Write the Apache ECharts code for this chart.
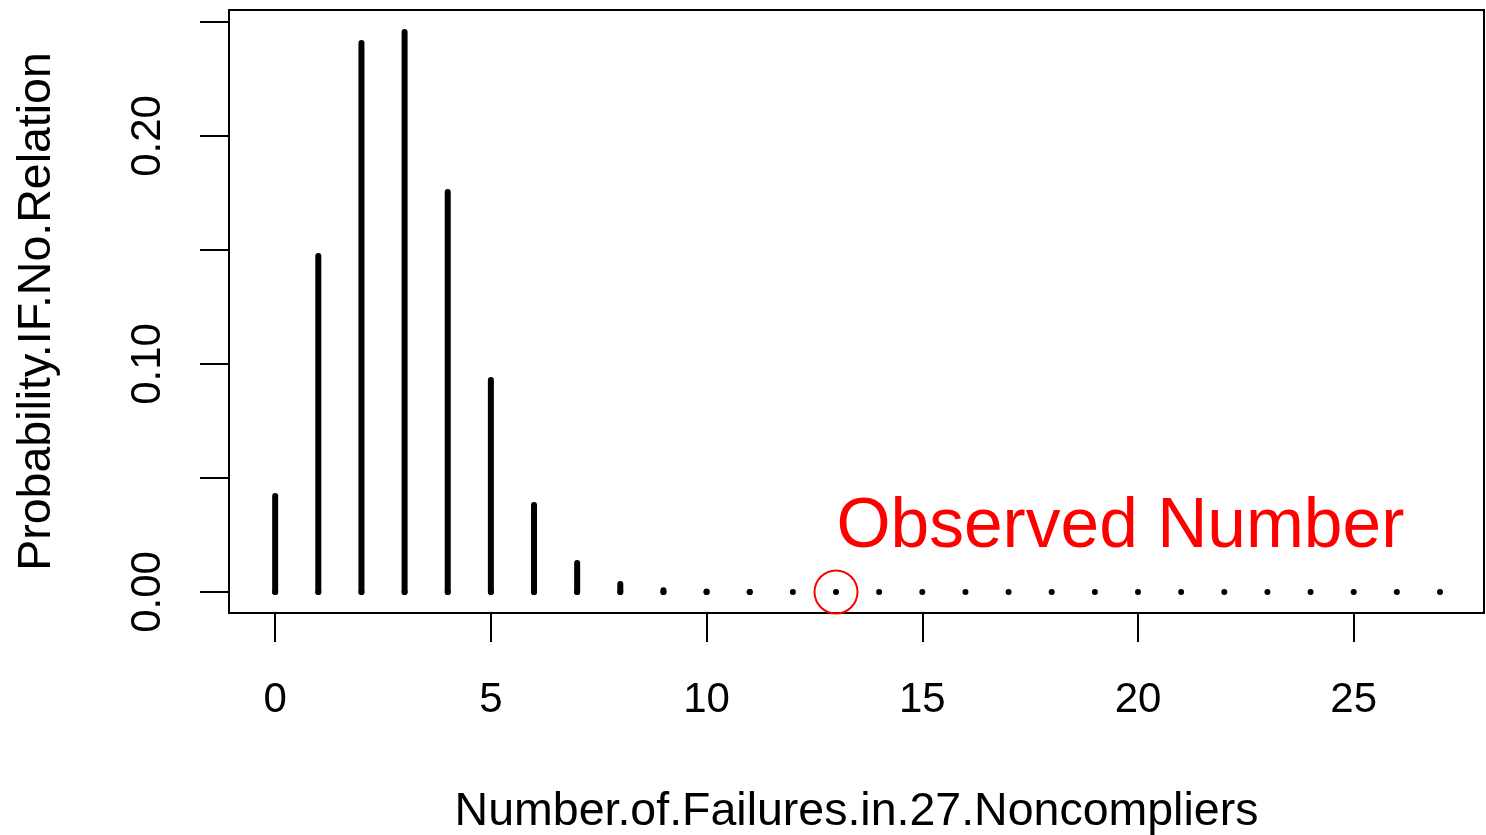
<!DOCTYPE html>
<html>
<head>
<meta charset="utf-8">
<script src="https://cdn.jsdelivr.net/npm/echarts@6/dist/echarts.min.js"></script>
<style>
html,body{margin:0;padding:0;background:#fff;}
#chart{width:1486px;height:835px;}
</style>
</head>
<body>
<div id="chart"></div>
<script>
// ---- data ----
const failures = [0,1,2,3,4,5,6,7,8,9,10,11,12,13,14,15,16,17,18,19,20,21,22,23,24,25,26,27];
const probabilities = [0.0421,0.1474,0.2408,0.2456,0.1754,0.0930,0.0382,0.0127,0.0035,0.0008,0.0002,0.00003,0,0,0,0,0,0,0,0,0,0,0,0,0,0,0,0];
const xTicks = [0,5,10,15,20,25];
const yTicks = [0,0.05,0.10,0.15,0.20,0.25];
const yTickLabels = [0,0.10,0.20];
const observedNumber = 13;
const observedLabel = 'Observed Number';
const observedLabelY = 0.0281;
const xTitle = 'Number.of.Failures.in.27.Noncompliers';
const yTitle = 'Probability.IF.No.Relation';

const FONT = 'Liberation Sans, Arial, Helvetica, sans-serif';
const chart = echarts.init(document.getElementById('chart'), null, {renderer:'canvas'});

const option = {
  backgroundColor:'#fff',
  animation:false,
  grid:{left:229, top:10, right:2, bottom:222, show:true, borderColor:'#000', borderWidth:2, backgroundColor:'transparent', containLabel:false, outerBoundsMode:'none'},
  xAxis:{
    type:'value', min:-1.07, max:28.02,
    splitLine:{show:false},
    axisLine:{show:false, onZero:false},
    axisTick:{show:true, inside:false, length:29, lineStyle:{color:'#000', width:2}, customValues:xTicks},
    axisLabel:{show:true, margin:66, fontSize:42, fontFamily:FONT, color:'#000', customValues:xTicks, formatter:v=>String(v)},
    name:xTitle, nameLocation:'middle', nameGap:176,
    nameTextStyle:{fontSize:46.5, fontFamily:FONT, color:'#000'}
  },
  yAxis:{
    type:'value', min:-0.00921, max:0.25526,
    splitLine:{show:false},
    axisLine:{show:false, onZero:false},
    axisTick:{show:true, inside:false, length:29, lineStyle:{color:'#000', width:2}, customValues:yTicks},
    axisLabel:{show:true, margin:60, rotate:90, fontSize:42, fontFamily:FONT, color:'#000', customValues:yTickLabels, formatter:v=>v.toFixed(2)},
    name:yTitle, nameLocation:'middle', nameGap:168, nameRotate:90,
    nameTextStyle:{fontSize:46.5, fontFamily:FONT, color:'#000'}
  },
  series:[
    {
      type:'custom',
      data:failures.map((f,i)=>[f, probabilities[i]]),
      renderItem:function(params, api){
        const base = api.coord([api.value(0), 0]);
        const top = api.coord([api.value(0), api.value(1)]);
        return {type:'group', children:[
          {type:'line', shape:{x1:base[0], y1:base[1], x2:top[0], y2:top[1]}, style:{stroke:'#000', lineWidth:6, lineCap:'round'}},
          {type:'circle', shape:{cx:base[0], cy:base[1], r:3}, style:{fill:'#000'}}
        ]};
      },
      z:2
    },
    {
      type:'scatter',
      data:[[observedNumber, 0]],
      symbol:'circle', symbolSize:43,
      itemStyle:{color:'transparent', borderColor:'#ff0000', borderWidth:2, opacity:1},
      z:3
    },
    {
      type:'scatter',
      data:[[observedNumber, observedLabelY]],
      symbolSize:1,
      itemStyle:{color:'transparent'},
      label:{show:true, position:'right', distance:0, formatter:observedLabel, fontSize:69.5, fontFamily:FONT, color:'#ff0000', opacity:1},
      z:4
    }
  ]
};
chart.setOption(option);
</script>
</body>
</html>
